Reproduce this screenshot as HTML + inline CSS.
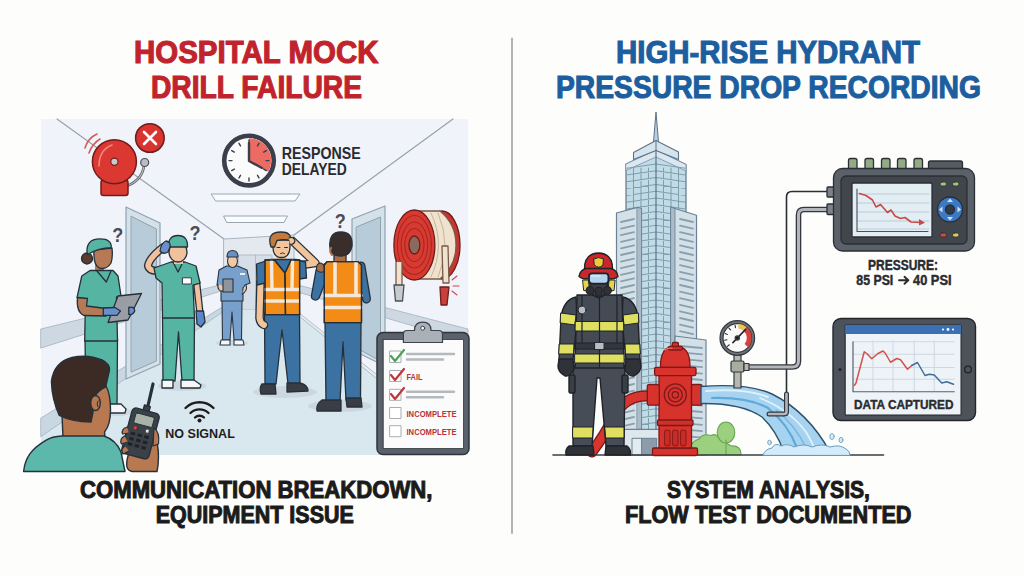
<!DOCTYPE html>
<html><head><meta charset="utf-8"><title>Hospital Mock Drill vs High-Rise Hydrant</title>
<style>
html,body{margin:0;padding:0;background:#fdfdfb;}
body{width:1024px;height:576px;overflow:hidden;font-family:"Liberation Sans",sans-serif;}
svg{display:block;position:absolute;left:0;top:0;}
</style></head><body>
<svg width="1024" height="576" viewBox="0 0 1024 576" font-family="'Liberation Sans', sans-serif" font-weight="bold" stroke-linejoin="round" stroke-linecap="round">
<rect x="0" y="0" width="1024" height="576" fill="#fdfdfb"/>
<!-- divider -->
<line x1="512" y1="38.5" x2="512" y2="533" stroke="#b4b4b4" stroke-width="2"/>

<!-- ============ LEFT PANEL ============ -->
<g id="left">
<rect x="41" y="119" width="427" height="336" fill="#f0f4fa"/>
<!-- ceiling lines -->
<g stroke="#98a2ac" stroke-width="1.2" fill="none">
<line x1="57" y1="119" x2="224" y2="239"/>
<line x1="453" y1="119" x2="294" y2="235"/>
</g>
<!-- back wall -->
<polygon points="224,239 294,235 294,310 224,310" fill="#e3e9ef" stroke="#a9b5c0" stroke-width="1"/>
<rect x="239" y="255" width="33" height="55" fill="#d6dfe7" stroke="#a9b5c0" stroke-width="0.8"/>
<line x1="255.5" y1="255" x2="255.5" y2="310" stroke="#a9b5c0" stroke-width="0.8"/>
<!-- floor -->
<polygon points="41,436 224,310 294,310 468,452 468,455 41,455" fill="#d9e7ee"/>
<!-- left wall rail & baseboard -->
<polygon points="41,329 224,284 224,290 41,348" fill="#cdd8e2" stroke="#a3b1be" stroke-width="0.8"/>
<polygon points="41,418 224,306 224,311 41,436.5" fill="#c9d7e2" stroke="#a3b1be" stroke-width="0.8"/>
<!-- right wall rail & baseboard -->
<polygon points="294,284 468,329 468,342 294,291" fill="#cdd8e2" stroke="#a3b1be" stroke-width="0.8"/>
<polygon points="294,309 468,447 468,452 294,312" fill="#e8edf2" stroke="#a3b1be" stroke-width="0.8"/>
<!-- door 1 (left wall) -->
<polygon points="126,207 160,223 160,364 126,379" fill="#d5e1e9" stroke="#8ea2b2" stroke-width="1.2"/>
<polygon points="131.4,216.4 156.4,229 156.4,361 131.4,372" fill="#b8cbd8" stroke="#8ea2b2" stroke-width="1"/>
<!-- door 2 (right wall) -->
<polygon points="352,219 385,206 385,366 352,350" fill="#d5e1e9" stroke="#8ea2b2" stroke-width="1.2"/>
<polygon points="356.5,227 380.5,217 380.5,361 356.5,348" fill="#b8cbd8" stroke="#8ea2b2" stroke-width="1"/>
<!-- ceiling lights -->
<polygon points="211.5,194 300,194 295,201 216,201" fill="#f9fbfd" stroke="#9aa6b2" stroke-width="1"/>
<polygon points="224,216 287.5,216 284,222.5 227,222.5" fill="#f9fbfd" stroke="#9aa6b2" stroke-width="1"/>

<!-- bell -->
<g stroke="#6e1c1c" stroke-width="1.5">
<path d="M85,148 Q88,138 97,134" fill="none" stroke="#d65a55" stroke-width="1.6"/>
<path d="M89,153 Q92,144 100,139" fill="none" stroke="#d65a55" stroke-width="1.6"/>
<path d="M127,186 Q142,180 144,166" fill="none" stroke="#5d6168" stroke-width="2.6"/>
<path d="M127,186 Q142,180 144,166" fill="none" stroke="#b8bcc0" stroke-width="1.2"/>
<circle cx="144.7" cy="162.5" r="4" fill="#b9bdc2" stroke="#4a4e55" stroke-width="1.2"/>
<rect x="101" y="180" width="27" height="15.5" rx="2.5" fill="#d93a32"/>
<circle cx="114.4" cy="161.7" r="22" fill="#dc3832"/>
<path d="M99,166 Q99,150 112,145" fill="none" stroke="#f08a80" stroke-width="1.6"/>
<circle cx="114.4" cy="161.7" r="3.6" fill="#c9c9c9" stroke="#6e1c1c" stroke-width="1.1"/>
<circle cx="149.9" cy="138" r="14.3" fill="#d83530"/>
<path d="M144,132 L156,144 M156,132 L144,144" stroke="#fff" stroke-width="2.6"/>
</g>
<!-- clock -->
<g>
<circle cx="249" cy="160.6" r="24.8" fill="#fbfbfb" stroke="#3b3e4b" stroke-width="4.6"/>
<path d="M249,160.6 L249,138.3 A22.3,22.3 0 0 1 268.3,171.75 Z" fill="#ec6b62"/>
<g stroke="#3b3e4b" stroke-width="1.4">
<line x1="249" y1="140" x2="249" y2="143"/><line x1="249" y1="178" x2="249" y2="181"/>
<line x1="229" y1="160.6" x2="232" y2="160.6"/><line x1="266" y1="160.6" x2="269" y2="160.6"/>
<line x1="259" y1="143.3" x2="257.5" y2="145.9"/><line x1="266.3" y1="150.6" x2="263.7" y2="152.1"/>
<line x1="266.3" y1="170.6" x2="263.7" y2="169.1"/><line x1="259" y1="177.9" x2="257.5" y2="175.3"/>
<line x1="239" y1="177.9" x2="240.5" y2="175.3"/><line x1="231.7" y1="170.6" x2="234.3" y2="169.1"/>
<line x1="231.7" y1="150.6" x2="234.3" y2="152.1"/><line x1="239" y1="143.3" x2="240.5" y2="145.9"/>
</g>
<path d="M249,143 L249,161 L262,168" fill="none" stroke="#3b3e4b" stroke-width="2.4"/>
</g>
<g fill="#2a2a2e">
<text x="281.8" y="158.7" font-size="16.5" textLength="79" lengthAdjust="spacingAndGlyphs">RESPONSE</text>
<text x="281.8" y="175.4" font-size="16.5" textLength="65" lengthAdjust="spacingAndGlyphs">DELAYED</text>
</g>
<!-- hose reel -->
<g stroke="#6e1c1c" stroke-width="1.3">
<ellipse cx="442" cy="245" rx="18" ry="34" fill="#c9342e"/>
<path d="M414,211 L440,211 Q456,224 456,245 Q456,266 440,279 L414,279 Z" fill="#efe3cf" stroke="#7a5a48"/>
<path d="M424,214 Q437,245 424,276 M431,213 Q446,245 431,277 M438,213 Q452,245 438,277" fill="none" stroke="#c8b49a" stroke-width="1"/>
<ellipse cx="414.4" cy="245" rx="20.5" ry="35" fill="#d83a32"/>
<ellipse cx="414.4" cy="245" rx="17" ry="29.5" fill="none" stroke="#a82822" stroke-width="1.1"/>
<ellipse cx="414.4" cy="245" rx="13.3" ry="23" fill="none" stroke="#a82822" stroke-width="1.1"/>
<ellipse cx="414.4" cy="245" rx="9.6" ry="16.5" fill="none" stroke="#a82822" stroke-width="1.1"/>
<ellipse cx="414.4" cy="245" rx="5.5" ry="9" fill="#8a6a5c"/>
<path d="M396,262 L396,286 L402,286 L402,262" fill="#efe3cf" stroke="#7a5a48"/>
<path d="M394,285 L404,285 L402.5,301 L395.5,301 Z" fill="#c7cbd0" stroke="#4a4e55"/>
<path d="M442,246 L448,246 L449,283 L443,283 Z" fill="#efe3cf" stroke="#7a5a48"/>
<path d="M440,287 L449,287 L447,305 L441,305 Z" fill="#c9403a" stroke="#6e1c1c"/>
</g>
<g stroke="#c94a44" stroke-width="1.1">
<line x1="452" y1="280" x2="457" y2="276"/><line x1="453" y1="286" x2="459" y2="286"/><line x1="452" y1="291" x2="457" y2="295"/>
</g>

<!-- floor shadows -->
<g fill="#c9d4df" opacity="0.8">
<ellipse cx="232" cy="343" rx="16" ry="3"/>
<ellipse cx="182" cy="386" rx="24" ry="5"/>
<ellipse cx="285" cy="392" rx="32" ry="6"/>
<ellipse cx="340" cy="406" rx="32" ry="6"/>
<ellipse cx="118" cy="412" rx="14" ry="4"/>
</g>
<!-- doctor (blue, back) -->
<g stroke="#2a3440" stroke-width="1.1">
<path d="M222,300 L242,300 L241.5,340 L234,340 L232,312 L230,340 L222.5,340 Z" fill="#77a0cd"/>
<path d="M221,340 L230,340 L230,345 L220,345 Z M234,340 L243,340 L244,345 L234,345 Z" fill="#f4f6f8"/>
<path d="M226.5,266 L237.5,266 L247,270 L250,283 L245,285 L243,288 L243,301 L221,301 L221,288 L217,285 L219,270 Z" fill="#77a0cd"/>
<path d="M218,284 Q217,292 224,291 L228,288 M246,285 Q248,291 242,294" fill="#f2c8a0"/>
<rect x="223" y="279" width="10" height="13" fill="#8f959c"/>
<rect x="230" y="260" width="5" height="7" fill="#f2c8a0" stroke="none"/>
<ellipse cx="232.5" cy="261" rx="5" ry="6.5" fill="#f2c8a0"/>
<path d="M227,257 Q227,250.5 232.5,250.5 Q238,250.5 238,257 Z" fill="#6a8fc2"/>
<rect x="240" y="273" width="5" height="2" fill="#eaf0f6" stroke="none"/>
</g>
<!-- nurse 2 (scratching head) -->
<g stroke="#25303a" stroke-width="1.3">
<path d="M162.5,317 L194.5,317 L194,381 L182,381 L178.5,332 L175,381 L163,381 Z" fill="#56b4a3"/>
<path d="M162,380 L173,380 L173,388 L162,388 Z" fill="#f6f7f8"/>
<path d="M181,380 L194,380 L201,385 L200,388 L181,388 Z" fill="#f6f7f8"/>
<path d="M193.5,282 L199.5,281 L203,313 L197,314 Z" fill="#f1c09c"/>
<path d="M196,311 L203.5,311 L205,322 L201,327 L197,324 Z" fill="#5b86c8"/>
<path d="M157,271 Q149,270.5 148,266 Q149,258 163.5,247" fill="none" stroke="#25303a" stroke-width="8.2"/>
<path d="M157,271 Q149,270.5 148,266 Q149,258 163.5,247" fill="none" stroke="#f1c09c" stroke-width="5.6"/>
<path d="M171,262 L185,262 L196,266 L200,283 L193,285 L194.5,318 L162.5,318 L162,283 L156,278 L154,268 Z" fill="#56b4a3"/>
<path d="M173,262 L178,272 L183,262" fill="none"/>
<rect x="182.8" y="277.8" width="8.5" height="6.2" fill="#ffffff" stroke-width="0.9"/>
<rect x="174" y="255" width="9" height="9" fill="#f1c09c" stroke="none"/>
<ellipse cx="178" cy="252" rx="9" ry="10" fill="#f1c09c"/>
<path d="M168.5,247 Q168,235.5 178,235.5 Q188,235.5 187.5,247 Z" fill="#56b4a3"/>
<path d="M160,251 Q161,243 166,241 Q171,242 170,247 L168,252 Q163,255 160,251 Z" fill="#6a8fd0"/>
</g>
<!-- nurse 1 (tablet) -->
<g stroke="#25303a" stroke-width="1.3">
<path d="M85,339 L117.5,339 L117,406 L104,406 L101,360 L98,406 L86,406 Z" fill="#56b4a3"/>
<path d="M109,404 L121,404 L126,409 L125,413 L109,413 Z" fill="#f6f7f8"/>
<circle cx="87" cy="258.5" r="5.5" fill="#5a3b2e"/>
<path d="M95,262 L104,262 L104,273 L95,273 Z" fill="#b57a55" stroke="none"/>
<path d="M94,250 Q93,266 100,268.3 Q107,269.5 111,263 Q113,257 112,248 Z" fill="#b57a55"/>
<path d="M87.3,254.5 Q85,239 100,238.9 Q112,239 111.2,247.7 Q99,248 87.3,254.5 Z" fill="#56b4a3"/>
<path d="M90,270.5 L113,270.5 L118,276 L121,296 L116.5,297.5 L117.5,341 L84.7,341 L85.5,299 L77,297.7 L81.8,276 Z" fill="#56b4a3"/>
<path d="M97,271 L106.3,282 L111,271" fill="none"/>
<path d="M77.5,297.5 L87.5,298.5 L86.5,306 L106,308.5 L106,316 L84,315.5 Q76,312 77.5,297.5 Z" fill="#b57a55"/>
<path d="M116.5,297 L121.5,296 L130,307 L125,310 Z" fill="#b57a55"/>
<polygon points="118,296 141.5,293.5 128,320 108,322.5" fill="#9a9ea4"/>
<path d="M103.3,308 L115,307.5 L120.5,311 L117,315.3 L103.3,315.3 Z" fill="#6a8fd0"/>
<path d="M128.8,307.5 Q134.7,306 134.7,311 Q133,315 128.8,314.4 Z" fill="#6a8fd0"/>
</g>
<g fill="#4a4d54" font-size="20">
<text x="112.2" y="242.4" textLength="11" lengthAdjust="spacingAndGlyphs">?</text>
<text x="189.5" y="240" textLength="11" lengthAdjust="spacingAndGlyphs">?</text>
<text x="334.8" y="228" textLength="11" lengthAdjust="spacingAndGlyphs">?</text>
</g>
<!-- worker 1 (brown hair, scratching) -->
<g stroke="#25303a" stroke-width="1.3">
<path d="M264.5,313 L299.5,313 L300,384 L288,384 L282,330 L276,384 L265,384 Z" fill="#3c72a2"/>
<path d="M262,384 L275,384 L276,394 L261,394 Q259,388 262,384 Z" fill="#3a3e44"/>
<path d="M287,383 L300,383 Q308,385 308,391 L287,392 Z" fill="#3a3e44"/>
<path d="M260.5,282 L259.5,318 Q260,323 264,325" fill="none" stroke="#25303a" stroke-width="8.6"/>
<path d="M260.5,282 L259.5,318 Q260,323 264,325" fill="none" stroke="#f2c49c" stroke-width="6"/>
<path d="M302,265 L315.5,263 L292.5,241" fill="none" stroke="#25303a" stroke-width="8.6"/>
<path d="M302,265 L315.5,263 L292.5,241" fill="none" stroke="#f2c49c" stroke-width="6"/>
<rect x="276.5" y="253" width="10" height="9" fill="#f2c49c" stroke="none"/>
<path d="M270,259.5 L296,259.5 L305.5,262 L306.5,278 L299,279 L299,283 L265,283 L257,285 L256.5,264 Z" fill="#3c72a2"/>
<path d="M265,260 L274.5,260 L285,273 L285.5,314.7 L265,314.7 Z" fill="#f38b17"/>
<path d="M299.6,260 L291,260 L285,273 L285.5,314.7 L299.6,314.7 Z" fill="#f38b17"/>
<path d="M271.5,261 L272,288 M292.5,261 L292,288 M265.5,289.5 L299,289.5 M265.5,301 L299,301" stroke="#f6e8d6" stroke-width="3.4"/>
<path d="M265,260 L274.5,260 L285,273 L285.5,314.7 L265,314.7 Z M299.6,260 L291,260 L285,273 L285.5,314.7 L299.6,314.7 Z" fill="none"/>
<path d="M273,244 Q272,257.5 281.5,257.5 Q290,257.5 290,246 L290,240 L273,240 Z" fill="#f2c49c"/>
<path d="M271,247 Q266,232 281,232 Q292,232 290.5,241 Q285,238.5 277,240.5 L274.5,247 Z" fill="#c47a3a"/>
<path d="M277,247.5 L280,247.5 M284.5,247.5 L287.5,247.5 M280.5,253.5 Q282.5,252 284.5,253.5" fill="none" stroke-width="1"/>
<path d="M289,238 Q293.5,236 295,241 Q294,245 290,244" fill="#f2c49c" stroke-width="1.1"/>
</g>
<!-- worker 2 (back view) -->
<g stroke="#25303a" stroke-width="1.3">
<path d="M325,321 L361,321 L360.5,400 L346,400 L343,342 L340,402 L326,402 Z" fill="#3c72a2"/>
<path d="M322,400 L341,400 L341,411 L317,411 Q316,404 322,400 Z" fill="#3a3e44"/>
<path d="M346,398 L361,398 L362,407 L347,407 Z" fill="#3a3e44"/>
<path d="M361,266 L366.5,299" fill="none" stroke="#25303a" stroke-width="9"/>
<path d="M361,266 L366.5,299" fill="none" stroke="#3c72a2" stroke-width="6.4"/>
<path d="M327,267 L315.5,296 L320,271" fill="none" stroke="#25303a" stroke-width="9.4"/>
<path d="M327,267 L315.5,296 L320,271" fill="none" stroke="#3c72a2" stroke-width="6.8"/>
<path d="M316.5,270 Q316,263 321,263 Q325,264.5 324.5,271 Q320,274 316.5,270 Z" fill="#a86e48" stroke-width="1.1"/>
<rect x="334" y="250" width="12" height="12" fill="#a86e48"/>
<path d="M327,261.6 L358,261.6 L361.5,265 L361.5,322.7 L324.3,322.7 L324.3,265 Z" fill="#f38b17"/>
<path d="M335,262.5 L335,294 M356,262.5 L356,294 M324.8,295.5 L361,295.5 M324.8,307.5 L361,307.5" stroke="#f6e8d6" stroke-width="3.6"/>
<path d="M327,261.6 L358,261.6 L361.5,265 L361.5,322.7 L324.3,322.7 L324.3,265 Z" fill="none"/>
<path d="M330,248 Q328,232 341,232 Q353,232 352,246 Q350,256 341,256 Q331,256 330,248 Z" fill="#3a2e2a"/>
<path d="M331,248 Q329,252 332,255" fill="none" stroke="#a86e48" stroke-width="2"/>
</g>
<!-- clipboard -->
<g>
<rect x="377" y="332.5" width="92" height="122" rx="6" fill="#5a616a" stroke="#2e343b" stroke-width="1.5"/>
<rect x="383.5" y="339.5" width="80" height="109" fill="#fbfbfb" stroke="#2e343b" stroke-width="0.8"/>
<path d="M403.4,342.5 L403.4,334 Q403.4,330.5 407,330.5 L414.5,330.5 Q414.5,322.2 422.7,322.2 Q431,322.2 431,330.5 L438.5,330.5 Q442.5,330.5 442.5,334 L442.5,342.5 Z" fill="#a9b0b7" stroke="#3c4249" stroke-width="1.2"/>
<circle cx="422.7" cy="328.2" r="2" fill="#eef1f4" stroke="#3c4249" stroke-width="1"/>
<g fill="#fff" stroke="#a8aeb4" stroke-width="1">
<rect x="390" y="351" width="11" height="11.5"/>
<rect x="390" y="370.5" width="11" height="11"/>
<rect x="390" y="389.3" width="11" height="11"/>
<rect x="390" y="407.5" width="11" height="11"/>
<rect x="390" y="425.7" width="11" height="11"/>
</g>
<g fill="none" stroke-width="2.2">
<path d="M391,356 L395,361 L404,350" stroke="#4aa25a"/>
<path d="M391,375 L395,380 L404,369" stroke="#c0363a"/>
<path d="M391,394 L395,399 L404,388" stroke="#c0363a"/>
</g>
<g stroke="#b4b9be" stroke-width="2.4">
<line x1="407" y1="354" x2="454" y2="354"/><line x1="407" y1="359.5" x2="443" y2="359.5"/>
<line x1="407" y1="391.7" x2="454" y2="391.7"/><line x1="407" y1="397.3" x2="443" y2="397.3"/>
</g>
<g fill="#b8343a">
<text x="406.5" y="379.6" font-size="9.4" textLength="16" lengthAdjust="spacingAndGlyphs">FAIL</text>
<text x="406.5" y="416.6" font-size="9.4" textLength="50" lengthAdjust="spacingAndGlyphs">INCOMPLETE</text>
<text x="406.5" y="434.7" font-size="9.4" textLength="50" lengthAdjust="spacingAndGlyphs">INCOMPLETE</text>
</g>
</g>
<!-- wifi + no signal -->
<g fill="none" stroke="#1d1d1f" stroke-width="2.4" stroke-linecap="round">
<path d="M185.5,408 A20,20 0 0 1 213.5,408"/>
<path d="M190.5,413 A13,13 0 0 1 208.5,413"/>
<path d="M195,417.5 A6.5,6.5 0 0 1 204,417.5"/>
</g>
<circle cx="199.5" cy="420.5" r="2" fill="#1d1d1f"/>
<text x="165.3" y="438.3" font-size="13.6" fill="#1d1d1f" textLength="69.5" lengthAdjust="spacingAndGlyphs">NO SIGNAL</text>
<!-- foreground guy -->
<g stroke="#25303a" stroke-width="1.4">
<path d="M62,414 L88,386 L106,386 Q110.5,394 110.5,410 Q110.5,425 104.5,432 L105,437 L63,438 Z" fill="#b87850"/>
<path d="M23.6,471.5 C25,458 31,449 45.8,440.3 Q52,436.5 62,436 L104,436 Q116,440 121,452 L125,471.5 Z" fill="#5cb8aa"/>
<path d="M59.3,415.5 Q52,400 51.4,381.6 Q54,362 72,357.5 Q88,354 102,360 Q110,364 109.5,370 L105.6,387 Q100,389 95.5,395 Q92,402 93,412 L91,422 Q72,422 59.3,415.5 Z" fill="#3b2b24"/>
<ellipse cx="95.5" cy="403" rx="4.8" ry="7.5" fill="#b87850"/>
<path d="M98,401 Q96,404 98,407" fill="none" stroke-width="1"/>
<path d="M128,456 Q124,470 132,471.5 L157,471.5 Q160,458 157,442 L151,432 L134,438 Z" fill="#b87850"/>
<line x1="146.5" y1="412" x2="153" y2="384" stroke="#25303a" stroke-width="3.2"/>
<g transform="rotate(15 140.6 433.5)">
<rect x="137" y="405" width="6" height="6" fill="#3c4047"/>
<rect x="126.5" y="410" width="28" height="47" rx="4" fill="#3c4047"/>
<rect x="131" y="414.5" width="19" height="10.5" rx="1.5" fill="#a8b2a8" stroke-width="0.9"/>
<circle cx="134" cy="429.5" r="2.2" fill="#d2443e" stroke-width="0.6"/>
<circle cx="146.5" cy="429.5" r="2" fill="#e8e8e8" stroke-width="0.6"/>
<g fill="#202328" stroke="none">
<rect x="131" y="434" width="4.5" height="3"/><rect x="138" y="434" width="4.5" height="3"/><rect x="145" y="434" width="4.5" height="3"/>
<rect x="131" y="439.5" width="4.5" height="3"/><rect x="138" y="439.5" width="4.5" height="3"/><rect x="145" y="439.5" width="4.5" height="3"/>
<rect x="131" y="445" width="4.5" height="3"/><rect x="138" y="445" width="4.5" height="3"/><rect x="145" y="445" width="4.5" height="3"/>
</g>
</g>
<path d="M127,427 Q121,429 122.5,434 L129,433 M124.5,436 Q119,439 121.5,444 L128,442 M125,446 Q120,449 123,454 L129,451" fill="#b87850" stroke-width="1.2"/>
<path d="M154,428 Q160,432 158.5,444 L153,446 Z" fill="#b87850" stroke-width="1.2"/>
</g>

<!--LEFTSCENE-->
</g>

<!-- ============ RIGHT PANEL ============ -->
<g id="right">
<polygon points="653.5,142 656,112 658.5,142" fill="#b9cfe0" stroke="#5d7388" stroke-width="1"/>
<polygon points="626,164 656,150 686,164.5 686,440 626,440" fill="#c2dce7" stroke="#5d7388" stroke-width="1.2"/>
<polygon points="626,164 656,150 686,164.5 686,171 656,157 626,170.5" fill="#dce8f0" stroke="#7d97ab" stroke-width="0.9"/>
<polygon points="633.5,152.5 656,140.5 678.5,152 678.5,159.5 656,150.5 633.5,159.5" fill="#d6e4ee" stroke="#5d7388" stroke-width="1.1"/>
<line x1="656" y1="140.5" x2="656" y2="150.5" stroke="#5d7388" stroke-width="1"/>
<path d="M626.5,168.2 L656,164.0 L685.5,168.2 M626.5,175.0 L656,170.8 L685.5,175.0 M626.5,181.8 L656,177.6 L685.5,181.8 M626.5,188.6 L656,184.4 L685.5,188.6 M626.5,195.4 L656,191.2 L685.5,195.4 M626.5,202.2 L656,198.0 L685.5,202.2 M626.5,209.0 L656,204.8 L685.5,209.0 M626.5,215.8 L656,211.6 L685.5,215.8 M626.5,222.6 L656,218.4 L685.5,222.6 M626.5,229.4 L656,225.2 L685.5,229.4 M626.5,236.2 L656,232.0 L685.5,236.2 M626.5,243.0 L656,238.8 L685.5,243.0 M626.5,249.8 L656,245.6 L685.5,249.8 M626.5,256.6 L656,252.4 L685.5,256.6 M626.5,263.4 L656,259.2 L685.5,263.4 M626.5,270.2 L656,266.0 L685.5,270.2 M626.5,277.0 L656,272.8 L685.5,277.0 M626.5,283.8 L656,279.6 L685.5,283.8 M626.5,290.6 L656,286.4 L685.5,290.6 M626.5,297.4 L656,293.2 L685.5,297.4 M626.5,304.2 L656,300.0 L685.5,304.2 M626.5,311.0 L656,306.8 L685.5,311.0 M626.5,317.8 L656,313.6 L685.5,317.8 M626.5,324.6 L656,320.4 L685.5,324.6 M626.5,331.4 L656,327.2 L685.5,331.4 M626.5,338.2 L656,334.0 L685.5,338.2 M626.5,345.0 L656,340.8 L685.5,345.0 M626.5,351.8 L656,347.6 L685.5,351.8 M626.5,358.6 L656,354.4 L685.5,358.6 M626.5,365.4 L656,361.2 L685.5,365.4 M626.5,372.2 L656,368.0 L685.5,372.2 M626.5,379.0 L656,374.8 L685.5,379.0 M626.5,385.8 L656,381.6 L685.5,385.8 M626.5,392.6 L656,388.4 L685.5,392.6 M626.5,399.4 L656,395.2 L685.5,399.4 M626.5,406.2 L656,402.0 L685.5,406.2 M626.5,413.0 L656,408.8 L685.5,413.0 M626.5,419.8 L656,415.6 L685.5,419.8 M626.5,426.6 L656,422.4 L685.5,426.6 M626.5,433.4 L656,429.2 L685.5,433.4 M626.5,440.2 L656,436.0 L685.5,440.2 M626.5,447.0 L656,442.8 L685.5,447.0 M633.5,168 L633.5,440 M641.0,168 L641.0,440 M648.5,168 L648.5,440 M663.5,168 L663.5,440 M671.0,168 L671.0,440 M678.5,168 L678.5,440" fill="none" stroke="#7f9fad" stroke-width="1.05"/>
<line x1="656" y1="150" x2="656" y2="440" stroke="#5d7388" stroke-width="1.2"/>
<polygon points="616.5,213 637.3,207.3 641.5,208.5 641.5,455 616.5,455" fill="#d3e0e8" stroke="#6b8296" stroke-width="1.2"/>
<polygon points="637.3,207.3 641.5,208.5 641.5,455 637.3,455" fill="#a9bcc8" stroke="#6b8296" stroke-width="0.8"/>
<polygon points="671,207.3 675,208.5 696.5,215.3 696.5,455 671,455" fill="#d3e0e8" stroke="#6b8296" stroke-width="1.2"/>
<polygon points="671,207.3 675,208.5 675,455 671,455" fill="#a9bcc8" stroke="#6b8296" stroke-width="0.8"/>
<path d="M621,222.0 L634,219.0 M680,219.0 L693,222.0 M621,228.6 L634,225.6 M680,225.6 L693,228.6 M621,235.2 L634,232.2 M680,232.2 L693,235.2 M621,241.8 L634,238.8 M680,238.8 L693,241.8 M621,248.4 L634,245.4 M680,245.4 L693,248.4 M621,255.0 L634,252.0 M680,252.0 L693,255.0 M621,261.6 L634,258.6 M680,258.6 L693,261.6 M621,268.2 L634,265.2 M680,265.2 L693,268.2 M621,274.8 L634,271.8 M680,271.8 L693,274.8 M621,281.4 L634,278.4 M680,278.4 L693,281.4 M621,288.0 L634,285.0 M680,285.0 L693,288.0 M621,294.6 L634,291.6 M680,291.6 L693,294.6 M621,301.2 L634,298.2 M680,298.2 L693,301.2 M621,307.8 L634,304.8 M680,304.8 L693,307.8 M621,314.4 L634,311.4 M680,311.4 L693,314.4 M621,321.0 L634,318.0 M680,318.0 L693,321.0 M621,327.6 L634,324.6 M680,324.6 L693,327.6 M621,334.2 L634,331.2 M680,331.2 L693,334.2 M621,340.8 L634,337.8 M680,337.8 L693,340.8 M621,347.4 L634,344.4 M680,344.4 L693,347.4 M621,354.0 L634,351.0 M680,351.0 L693,354.0 M621,360.6 L634,357.6 M680,357.6 L693,360.6 M621,367.2 L634,364.2 M680,364.2 L693,367.2 M621,373.8 L634,370.8 M680,370.8 L693,373.8 M621,380.4 L634,377.4 M680,377.4 L693,380.4 M621,387.0 L634,384.0 M680,384.0 L693,387.0 M621,393.6 L634,390.6 M680,390.6 L693,393.6 M621,400.2 L634,397.2 M680,397.2 L693,400.2 M621,406.8 L634,403.8 M680,403.8 L693,406.8 M621,413.4 L634,410.4 M680,410.4 L693,413.4 M621,420.0 L634,417.0 M680,417.0 L693,420.0 M621,426.6 L634,423.6 M680,423.6 L693,426.6 M621,433.2 L634,430.2 M680,430.2 L693,433.2 M621,439.8 L634,436.8 M680,436.8 L693,439.8 M621,446.4 L634,443.4 M680,443.4 L693,446.4 M621,453.0 L634,450.0 M680,450.0 L693,453.0" fill="none" stroke="#8aa0ae" stroke-width="1.8"/>
<polygon points="675,336 706,340 706,455 675,455" fill="#d3e0e8" stroke="#6b8296" stroke-width="1.2"/>
<path d="M680,346.0 L702,348.0 M680,352.4 L702,354.4 M680,358.8 L702,360.8 M680,365.2 L702,367.2 M680,371.6 L702,373.6 M680,378.0 L702,380.0 M680,384.4 L702,386.4 M680,390.8 L702,392.8 M680,397.2 L702,399.2 M680,403.6 L702,405.6 M680,410.0 L702,412.0 M680,416.4 L702,418.4 M680,422.8 L702,424.8 M680,429.2 L702,431.2 M680,435.6 L702,437.6 M680,442.0 L702,444.0 M680,448.4 L702,450.4" fill="none" stroke="#8aa0ae" stroke-width="1.8"/>
<rect x="622" y="429.3" width="52" height="25.7" fill="#dfe7ee" stroke="#6b8296" stroke-width="1.2"/>
<rect x="632.4" y="438.3" width="9.6" height="16.7" fill="#e3ebf0" stroke="#6b8296" stroke-width="1"/><rect x="642" y="438.3" width="14.7" height="16.7" fill="#8c9caa" stroke="#6b8296" stroke-width="1"/>
<!-- bushes -->
<g stroke="#6aa356" stroke-width="1.1" fill="#9bd07e">
<path d="M690,455 Q689,442 699,439 Q703,433 711,435.5 Q716,433 719,438 L731,446 Q741,445 741,455 Z"/>
<ellipse cx="726" cy="432.5" rx="8.8" ry="10.5"/>
<line x1="726" y1="440" x2="726" y2="455"/>
</g>
<!-- red hose behind firefighter -->
<path d="M648,396 Q626,395 615,415 Q604,436 592,452" fill="none" stroke="#7a1a1a" stroke-width="11"/>
<path d="M648,396 Q626,395 615,415 Q604,436 592,452" fill="none" stroke="#d8352e" stroke-width="8.4"/>
<!-- ground line -->
<line x1="553" y1="455" x2="883.5" y2="455" stroke="#3a3f45" stroke-width="1.6"/>

<!-- firefighter -->
<g stroke="#1f2329" stroke-width="1.4">
<!-- pants -->
<path d="M573,365 L625,365 L624,446 L606,446 L600,378 L597,378 L592,446 L573,446 Z" fill="#474d57"/>
<path d="M573,427 L593,427 L592.5,438 L573,438 Z M605,427 L624,427 L624,438 L606,438 Z" fill="#dfe062" stroke-width="1"/>
<rect x="569" y="375" width="6" height="18" rx="1.5" fill="#3a3f45"/>
<rect x="622" y="375" width="6" height="18" rx="1.5" fill="#3a3f45"/>
<path d="M569,446 L593,446 L594,455 L566,455 Q565,449 569,446 Z" fill="#2f3338"/>
<path d="M606,446 L627,446 Q631,449 630.5,455 L605,455 Z" fill="#2f3338"/>
<!-- arms -->
<path d="M576,297 Q563,300 561,318 L559,360 L573,360 L577,320 Z" fill="#454b55"/>
<path d="M623,297 Q636,300 638,318 L640,360 L626,360 L622,320 Z" fill="#454b55"/>
<path d="M561,313 L576,315 L575,325 L560.5,323 Z M638,313 L623,315 L624,325 L638.5,323 Z" fill="#dfe062" stroke-width="1"/>
<path d="M559.5,344 L574,344 L573.5,354 L559,354 Z M639.5,344 L625,344 L625.5,354 L640,354 Z" fill="#dfe062" stroke-width="1"/>
<path d="M559,359 L573,359 L574,370 Q570,377 565,376 Q558,372 558,366 Z" fill="#2f3338"/>
<path d="M626,359 L640,359 L641,366 Q641,372 634,376 Q629,377 625,370 Z" fill="#2f3338"/>
<!-- torso -->
<path d="M577,295 L622,295 L624,368 L575,368 Z" fill="#454b55"/>
<path d="M575.5,321.5 L623.5,321.5 L623.8,331 L575.3,331 Z M575,354 L624,354 L624.2,363 L575,363 Z" fill="#dfe062" stroke-width="1"/>
<path d="M582,296 L582,343 M617,296 L617,343 M599.5,296 L599.5,368" fill="none" stroke-width="1.2"/>
<rect x="575.5" y="343" width="48" height="6" fill="#33383e" stroke-width="1"/>
<rect x="595" y="342.5" width="9" height="7" fill="#b9bdc2" stroke-width="0.9"/>
<circle cx="582" cy="310" r="4" fill="#b9bdc2" stroke-width="1"/>
<!-- head -->
<path d="M583,280 L588.5,280 L589.5,291.5 L584,290.5 Z M614.7,280 L609,280 L608,291.5 L613.7,290.5 Z" fill="#e6d54a" stroke-width="1"/>
<path d="M590,282 L598.7,279 L607.5,282 Q608.5,296.5 598.7,297.5 Q589,296.5 590,282 Z" fill="#3a3e44"/>
<path d="M584.5,270 Q584,253.5 598.5,253 Q613,253.5 612.5,270 Z" fill="#c8282c"/>
<path d="M579,276.5 Q580,270 586,268.5 L611,268.5 Q617,270 618,276.5 Q614,280 608,278.5 L589,278.5 Q583,280 579,276.5 Z" fill="#c8282c"/>
<path d="M594,258.8 Q598.7,256.3 603.4,258.8 L603,265 Q598.7,269.5 594.4,265 Z" fill="#f0c93a" stroke-width="1"/>
<rect x="589" y="273.3" width="19.4" height="10.3" rx="3" fill="#b3d5f0" stroke-width="1.8"/>
<path d="M591.5,276 L600,276" stroke="#e8f4fc" stroke-width="1.2"/>
<circle cx="590" cy="290.5" r="4" fill="#2e3237" stroke-width="1"/>
<circle cx="607.5" cy="290.5" r="4" fill="#2e3237" stroke-width="1"/>
<rect x="595.5" y="287.5" width="6.5" height="8.5" rx="2" fill="#2e3237" stroke-width="1"/>
</g>
<!-- hydrant -->
<g stroke="#7a1a1a" stroke-width="1.3">
<rect x="652.5" y="448" width="45" height="7.5" rx="1.5" fill="#d8322c"/>
<path d="M659,375 L691.5,375 L691.5,448 L659,448 Z" fill="#d8322c"/>
<rect x="657.5" y="420" width="35.5" height="5.5" rx="1" fill="#d03029"/>
<g fill="#c92c26" stroke="#8a1e1a" stroke-width="1.1"><rect x="664.5" y="430" width="5.5" height="16" rx="2.7"/><rect x="672.5" y="430" width="5.5" height="16" rx="2.7"/><rect x="680.5" y="430" width="5.5" height="16" rx="2.7"/></g>
<rect x="647.3" y="384.5" width="12" height="20.7" rx="2" fill="#d8322c"/>
<rect x="691.5" y="384.5" width="10.5" height="20.7" rx="2" fill="#d8322c"/>
<path d="M660.5,367.4 Q660,346 675.3,346 Q690.5,346 690,367.4 Z" fill="#d8322c"/>
<rect x="672.4" y="342.5" width="6" height="5" rx="1" fill="#d8322c"/><rect x="668.5" y="346.5" width="14" height="3.5" rx="1.5" fill="#d8322c"/>
<rect x="654.6" y="367.4" width="41.4" height="8.2" rx="1.5" fill="#d8322c"/>
<circle cx="675.3" cy="394.8" r="11" fill="#d8322c"/>
<circle cx="675.3" cy="394.8" r="7" fill="none"/>
<circle cx="675.3" cy="394.8" r="3.2" fill="none"/>
<path d="M665,350 Q667,348 672,348" fill="none" stroke="#ef7a6e" stroke-width="1.2"/>
</g>

<!-- water arc -->
<g>
<path d="M701,386.5 Q748,383 772,394 Q808,412 830,452 L784,452 Q776,430 762,417 Q742,403 701,403.5 Z" fill="#a6d3ef" stroke="#2f526e" stroke-width="1.4"/>
<path d="M706,391 Q745,388 768,397" fill="none" stroke="#dff0fb" stroke-width="2"/>
<path d="M712,398 Q748,397 768,408 Q788,424 797,448" fill="none" stroke="#5ea9da" stroke-width="2.2"/>
<path d="M760,398 Q790,410 806,432 Q812,442 815,450" fill="none" stroke="#e4f3fc" stroke-width="1.6"/>
<path d="M776,410 Q796,426 806,448" fill="none" stroke="#74b6e4" stroke-width="1.6"/>
<path d="M763,455 Q765,449 772,448 Q775,442 781,446 Q788,443 794,447 Q804,443 812,447 Q822,443 830,447 Q840,444 846,449 Q850,451 850,455 Z" fill="#d3ebfa" stroke="#6b9ec2" stroke-width="1"/>
<ellipse cx="832" cy="436.5" rx="2.2" ry="3" fill="#d3ebfa" stroke="#6b9ec2" stroke-width="0.9"/>
<ellipse cx="841" cy="440" rx="2" ry="2.6" fill="#d3ebfa" stroke="#6b9ec2" stroke-width="0.9"/>
<ellipse cx="769.5" cy="442.5" rx="1.8" ry="2.3" fill="#d3ebfa" stroke="#6b9ec2" stroke-width="0.9"/>
</g>
<!-- pipes & cables -->
<g fill="none">
<path d="M827,191.5 L792,191.5 Q786.5,191.5 786.5,197 L786.5,395" stroke="#2a2e33" stroke-width="1.6"/>
<path d="M827,209.5 L804,209.5 Q798.5,209.5 798.5,215 L798.5,361 Q798.5,367 792,367 L741,367" stroke="#33383e" stroke-width="5.6"/>
<path d="M827,209.5 L804,209.5 Q798.5,209.5 798.5,215 L798.5,361 Q798.5,367 792,367 L741,367" stroke="#b3b7bc" stroke-width="3"/>
<path d="M786.5,394 L786.5,412 Q786.5,414 784,414 L769,414" stroke="#33383e" stroke-width="5"/>
<path d="M786.5,394 L786.5,412 Q786.5,414 784,414 L769,414" stroke="#b3b7bc" stroke-width="2.6"/>
</g>
<!-- gauge -->
<g stroke="#33383e" stroke-width="1.2">
<rect x="734" y="353" width="7" height="35" fill="#b5b8ae"/>
<rect x="731" y="361" width="13" height="11" rx="1.5" fill="#a9ad9f"/>
<rect x="744" y="363.5" width="5" height="7" fill="#b5b8ae"/>
<circle cx="737.3" cy="338" r="17.3" fill="#6d7278"/>
<circle cx="737.3" cy="338" r="14.3" fill="#fafafa"/>
<path d="M738.55,323.75 A14.3,14.3 0 0 1 746.49,327.05 L743.41,330.72 A9.5,9.5 0 0 0 738.13,328.54 Z" fill="#eec45a" stroke="none"/>
<path d="M746.49,327.05 A14.3,14.3 0 0 1 748.25,347.19 L744.58,344.11 A9.5,9.5 0 0 0 743.41,330.72 Z" fill="#d8403a" stroke="none"/>
<g stroke="#333" stroke-width="1.1"><line x1="727.34" y1="346.36" x2="729.26" y2="344.75"/><line x1="724.50" y1="340.26" x2="726.96" y2="339.82"/><line x1="725.08" y1="333.55" x2="727.43" y2="334.41"/><line x1="728.94" y1="328.04" x2="730.55" y2="329.96"/><line x1="735.04" y1="325.20" x2="735.48" y2="327.66"/></g>
<path d="M733,342.5 L745.5,329.5" stroke="#222" stroke-width="1.8"/>
<circle cx="737.3" cy="338" r="2.1" fill="#222"/>
</g>
<!-- recorder device -->
<g stroke="#2b2f35" stroke-width="1.3">
<g fill="#93aa86">
<rect x="848.5" y="158.5" width="8.5" height="12" rx="2"/>
<rect x="865" y="158.5" width="8.5" height="12" rx="2"/>
<rect x="881.5" y="158.5" width="8.5" height="12" rx="2"/>
<rect x="897.5" y="158.5" width="8.5" height="12" rx="2"/>
<rect x="914" y="158.5" width="8.5" height="12" rx="2"/>
</g>
<rect x="928.5" y="161" width="34" height="10" rx="2" fill="#555b63"/>
<rect x="827" y="187" width="7.5" height="10" rx="1" fill="#7c8289"/>
<rect x="827" y="204" width="7.5" height="10.5" rx="1" fill="#7c8289"/>
<rect x="833.5" y="168.5" width="141" height="82.5" rx="9" fill="#5b6169"/>
<rect x="841" y="176" width="126" height="68" rx="5" fill="#41464d"/>
<rect x="852" y="183" width="80" height="54" rx="1.5" fill="#e3edf4"/>
<g stroke="#b7c8d6" stroke-width="0.9"><line x1="857" y1="194" x2="929" y2="194"/><line x1="857" y1="203" x2="929" y2="203"/><line x1="857" y1="212" x2="929" y2="212"/><line x1="857" y1="221" x2="929" y2="221"/><line x1="857" y1="229" x2="929" y2="229"/></g>
<path d="M857,189 L857,231.5 L928,231.5" fill="none" stroke="#4a5058" stroke-width="1.1"/>
<path d="M859.5,193.5 L866,195.5 L872.5,200 L876,207 L880.5,204.5 L887.5,212.5 L891,210 L895,216 L900.5,218.5 L905,217.5 L911,222 L921,222.5" fill="none" stroke="#c84a44" stroke-width="1.6"/>
<path d="M919,219 L925,222.7 L919,225.5 Z" fill="#c84a44" stroke="none"/>
<circle cx="950" cy="209.5" r="12.5" fill="#3b79c4"/>
<circle cx="950" cy="209.5" r="4.5" fill="#2f3a48"/>
<g fill="#cfe0f2" stroke="none"><path d="M950,198.5 L953,202 L947,202 Z"/><path d="M950,220.5 L953,217 L947,217 Z"/><path d="M939,209.5 L942.5,206.5 L942.5,212.5 Z"/><path d="M961,209.5 L957.5,206.5 L957.5,212.5 Z"/></g>
<rect x="940" y="182" width="6.5" height="4" rx="2" fill="#a5c27b" stroke-width="0.8"/>
<rect x="952.5" y="182" width="6.5" height="4" rx="2" fill="#a5c27b" stroke-width="0.8"/>
<rect x="940" y="233" width="6.5" height="4" rx="2" fill="#d24a3a" stroke-width="0.8"/>
<rect x="952.5" y="233" width="6.5" height="4" rx="2" fill="#d9cc62" stroke-width="0.8"/>
</g>
<g fill="#2a2b2e" stroke="#2a2b2e" stroke-width="0.45">
<text x="868" y="270.3" font-size="14.5" textLength="70" lengthAdjust="spacingAndGlyphs">PRESSURE:</text>
<text x="856.3" y="285.3" font-size="14.5" textLength="37" lengthAdjust="spacingAndGlyphs">85 PSI</text><path d="M899,280.3 L908,280.3 M904.5,276.8 L908.3,280.3 L904.5,283.8" fill="none" stroke="#2a2b2e" stroke-width="1.9"/><text x="913" y="285.3" font-size="14.5" textLength="38.5" lengthAdjust="spacingAndGlyphs">40 PSI</text>
</g>
<!-- tablet -->
<g>
<rect x="833" y="318.5" width="142.5" height="102" rx="8" fill="#4d535a" stroke="#23272c" stroke-width="1.4"/>
<rect x="845.5" y="325" width="115.5" height="90" fill="#eef3f8" stroke="#23272c" stroke-width="1"/>
<rect x="845.5" y="325" width="115.5" height="9" fill="#3c70b4"/>
<g fill="#ffffff"><circle cx="943" cy="329.5" r="1.1"/><circle cx="948" cy="329.5" r="1.4"/><circle cx="953" cy="329.5" r="1.1"/></g>
<circle cx="840" cy="369.5" r="1.5" fill="#1e2226"/>
<circle cx="968" cy="369.5" r="3.3" fill="none" stroke="#1e2226" stroke-width="1.3"/>
<g stroke="#c9d5e0" stroke-width="0.9">
<line x1="853" y1="341.75" x2="954" y2="341.75"/><line x1="853" y1="354.25" x2="954" y2="354.25"/><line x1="853" y1="367.5" x2="954" y2="367.5"/><line x1="853" y1="379.25" x2="954" y2="379.25"/>
<line x1="873" y1="341" x2="873" y2="391"/><line x1="893" y1="341" x2="893" y2="391"/><line x1="914.25" y1="341" x2="914.25" y2="391"/><line x1="934.25" y1="341" x2="934.25" y2="391"/>
</g>
<path d="M853,341.75 L853,391.75 L954.25,391.75" fill="none" stroke="#5b6168" stroke-width="1.2"/>
<path d="M854.25,385.5 L856,383 L864.25,351.75 L866.75,353.5 L871.75,358.75 L878,353.5 L883,351 L885.5,353.5 L890.5,362.25 L896.75,358.5 L900.5,359.75 L907.5,369.25 L911.75,365.5" fill="none" stroke="#d4504a" stroke-width="1.5"/>
<path d="M911.75,365.5 L917.5,362.5 L925,375.5 L929.25,374.25 L934.25,375 L941.75,383 L946.75,381.75 L953.5,384.25" fill="none" stroke="#3d6e9c" stroke-width="1.5"/>
<text x="854" y="408.8" font-size="13" fill="#2a2b2e" stroke="#2a2b2e" stroke-width="0.4" textLength="99.5" lengthAdjust="spacingAndGlyphs">DATA CAPTURED</text>
</g>

<!--RIGHTSCENE-->
</g>

<!-- ============ TEXT ============ -->
<g fill="#c1232d" stroke="#c1232d" stroke-width="1.1" stroke-linejoin="miter">
<text x="134" y="63.2" font-size="31" textLength="244.5" lengthAdjust="spacingAndGlyphs">HOSPITAL MOCK</text>
<text x="151" y="97.6" font-size="31" textLength="211" lengthAdjust="spacingAndGlyphs">DRILL FAILURE</text>
</g>
<g fill="#1c5e9e" stroke="#1c5e9e" stroke-width="1.1" stroke-linejoin="miter">
<text x="616" y="63.2" font-size="31" textLength="304" lengthAdjust="spacingAndGlyphs">HIGH-RISE HYDRANT</text>
<text x="556" y="97.6" font-size="31" textLength="425" lengthAdjust="spacingAndGlyphs">PRESSURE DROP RECORDING</text>
</g>
<g fill="#1b1b1b" stroke="#1b1b1b" stroke-width="1" stroke-linejoin="miter">
<text x="80" y="497.8" font-size="23.5" textLength="352.5" lengthAdjust="spacingAndGlyphs">COMMUNICATION BREAKDOWN,</text>
<text x="155.8" y="522.7" font-size="23.5" textLength="198" lengthAdjust="spacingAndGlyphs">EQUIPMENT ISSUE</text>
<text x="667" y="497.8" font-size="23.5" textLength="203" lengthAdjust="spacingAndGlyphs">SYSTEM ANALYSIS,</text>
<text x="625" y="522.7" font-size="23.5" textLength="286.5" lengthAdjust="spacingAndGlyphs">FLOW TEST DOCUMENTED</text>
</g>
</svg>
</body></html>
